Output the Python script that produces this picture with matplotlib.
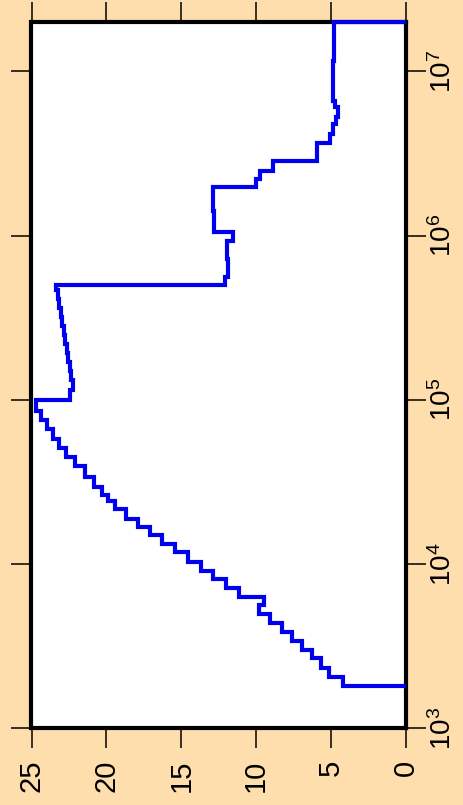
import numpy as np
import matplotlib
matplotlib.use("Agg")
import matplotlib.pyplot as plt
from matplotlib.ticker import NullLocator

plt.rcParams['font.family'] = ['Liberation Sans', 'DejaVu Sans']
plt.rcParams['mathtext.fontset'] = 'custom'
plt.rcParams['mathtext.rm'] = 'Liberation Sans'
plt.rcParams['mathtext.it'] = 'Liberation Sans'
plt.rcParams['mathtext.bf'] = 'Liberation Sans'

# step start times (years) and the value held from each start time
times = [1808, 2043, 2337, 2666, 2995, 3396, 3869, 4371, 4959, 5623,
         6318, 7105, 8058, 9093, 10310, 11870, 13210, 14990, 16840, 18940,
         21580, 24130, 26250, 29370, 33790, 39390, 44880, 51200, 58070, 66160,
         75050, 85500, 100300, 114200, 131400, 149100, 169100, 191800, 217600, 246800,
         280000, 317600, 360300, 408600, 463600, 497200, 558500, 725500, 933800, 1049000,
         1421000, 1970000, 2216000, 2489000, 2863000, 3648000, 4178000, 4809000, 5252000, 6100000,
         6634000, 11620000]
values = [4.23, 5.12, 5.70, 6.30, 6.93, 7.60, 8.30, 9.06, 9.82, 9.49,
          11.16, 12.02, 12.87, 13.71, 14.58, 15.43, 16.32, 17.10, 17.88, 18.70,
          19.45, 19.90, 20.30, 20.85, 21.40, 22.10, 22.67, 23.16, 23.56, 23.96,
          24.34, 24.67, 22.44, 22.22, 22.33, 22.45, 22.55, 22.65, 22.75, 22.85,
          22.95, 23.05, 23.15, 23.25, 23.35, 12.09, 11.90, 11.95, 11.54, 12.83,
          12.90, 9.98, 9.77, 8.90, 5.97, 5.08, 4.90, 4.68, 4.54, 4.74,
          4.84, 4.80]
t_end = 2.0e7

value_ticks = [25, 20, 15, 10, 5, 0]
value_labels = ['25', '20', '15', '10', '5', '0']
time_ticks = [1e3, 1e4, 1e5, 1e6, 1e7]
time_labels = [r'$10^3$', r'$10^4$', r'$10^5$', r'$10^6$', r'$10^7$']

t = np.array(times + [t_end], dtype=float)
v = np.array(values, dtype=float)
px = np.concatenate([[0.0], np.repeat(v, 2), [0.0]])
py = np.concatenate([[t[0]], np.column_stack([t[:-1], t[1:]]).ravel(), [t_end]])

W, H = 464, 805
fig = plt.figure(figsize=(W / 100, H / 100), dpi=100, facecolor='#FFDEAD')
left, right, top, bottom = 31.5, 406, 22, 728.3
ax = fig.add_axes([left / W, 1 - bottom / H, (right - left) / W, (bottom - top) / H])
ax.set_facecolor('white')

ax.plot(px, py, color='#0000EE', lw=3, zorder=3, clip_on=False,
        solid_joinstyle='miter', solid_capstyle='butt')

ax.set_yscale('log')
ax.set_xlim(25, 0)
ax.set_ylim(1e3, t_end)

ax.set_xticks(value_ticks)
ax.set_xticklabels(value_labels, rotation=90)
ax.set_yticks(time_ticks)
ax.set_yticklabels(time_labels)
ax.yaxis.set_minor_locator(NullLocator())
ax.xaxis.set_minor_locator(NullLocator())

ax.tick_params(axis='x', which='major', direction='out', length=14.4, width=1.1,
               top=True, bottom=True, labelbottom=True, labeltop=False,
               labelsize=21, pad=8, colors='black')
ax.tick_params(axis='y', which='major', direction='out', length=14.4, width=1.1,
               left=True, right=True, labelleft=False, labelright=True,
               labelsize=20, pad=2, colors='black')
for lab in ax.get_yticklabels():
    lab.set_rotation(90)
    lab.set_va('center')

for s in ax.spines.values():
    s.set_linewidth(3)
    s.set_color('black')

fig.savefig('out.png', dpi=100, facecolor=fig.get_facecolor())
